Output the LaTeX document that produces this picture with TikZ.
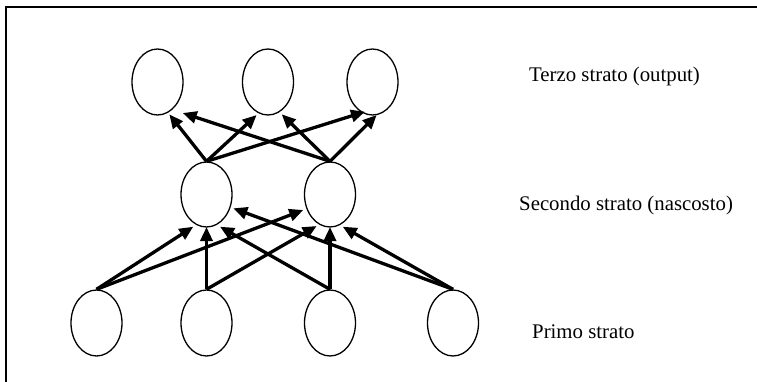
\documentclass[tikz,border=0pt]{standalone}
\usepackage{fontspec}
\setmainfont{Liberation Serif}
\usetikzlibrary{shapes.geometric,arrows.meta,calc}

\tikzset{
  neuron/.style={draw, ellipse, line width=1.3pt, minimum width=51pt, minimum height=66pt, inner sep=0pt},
  link/.style={line width=3.3pt, -{Triangle[length=14pt,width=12pt]}},
  layertext/.style={anchor=base west, inner sep=0pt, font=\fontsize{20.8}{24}\selectfont}
}

\begin{document}
\begin{tikzpicture}[x=1pt, y=-1pt]
\useasboundingbox (0,0) rectangle (757,382);
\clip (0,0) rectangle (757,382);

% outer frame
\draw[line width=1.8pt] (6,400) -- (6,7) -- (780,7);

% output layer
\node[neuron] (o1) at (157.5,82) {};
\node[neuron] (o2) at (268,82) {};
\node[neuron] (o3) at (372.5,82) {};

% hidden layer
\node[neuron, minimum height=65pt] (h1) at (206.5,194.5) {};
\node[neuron, minimum height=65pt] (h2) at (330,194.5) {};

% input layer
\node[neuron] (b1) at (96.5,323) {};
\node[neuron] (b2) at (206.5,323) {};
\node[neuron] (b3) at (330,323) {};
\node[neuron] (b4) at (453,323) {};

% hidden -> output
\draw[link] (h1.north) -- ($(o1.center)+(11.8,32.3)$);
\draw[link] (h2.north) -- ($(o1.center)+(25.2,31)$);
\draw[link] (h1.north) -- ($(o2.center)+(-11.3,33)$);
\draw[link] (h2.north) -- ($(o2.center)+(13.7,32.3)$);
\draw[link] (h1.north) -- ($(o3.center)+(-7.5,29.7)$);
\draw[link] (h2.north) -- ($(o3.center)+(4.2,33)$);

% input -> hidden
\draw[link] (b1.north) -- ($(h1.center)+(-13.2,32.2)$);
\draw[link] (b2.north) -- ($(h1.center)+(0,32.5)$);
\draw[link] (b3.north) -- ($(h1.center)+(13.5,32.2)$);
\draw[link] (b4.north) -- ($(h1.center)+(26.8,13.8)$);
\draw[link] (b1.north) -- ($(h2.center)+(-26.7,15.5)$);
\draw[link] (b2.north) -- ($(h2.center)+(-13.3,31.5)$);
\draw[link] (b3.north) -- ($(h2.center)+(0,32.5)$);
\draw[link] (b4.north) -- ($(h2.center)+(12.7,32.2)$);

% layer labels
\node[layertext] (t3) at (529,81.7) {Terzo strato (output)};
\node[layertext] (t2) at (519,210) {Secondo strato (nascosto)};
\node[layertext] (t1) at (532,338) {Primo strato};
\end{tikzpicture}
\end{document}
